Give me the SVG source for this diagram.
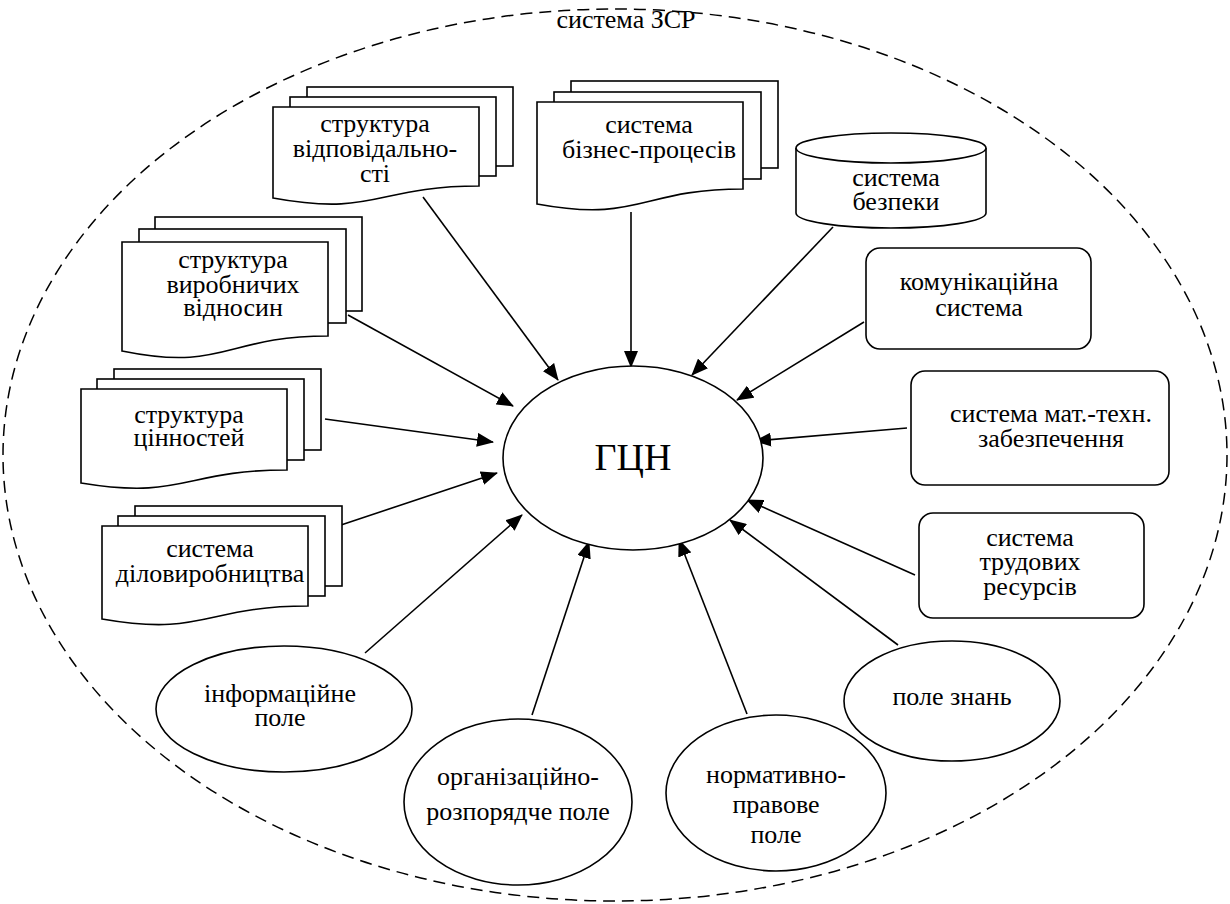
<svg xmlns="http://www.w3.org/2000/svg" width="1230" height="904" viewBox="0 0 1230 904" font-family="'Liberation Serif', 'Times New Roman', 'DejaVu Serif', serif">
<defs>
<marker id="arr" markerUnits="userSpaceOnUse" markerWidth="18" markerHeight="14" refX="16" refY="7" orient="auto">
<path d="M0,0 L17,7 L0,14 Z" fill="#000"/>
</marker>
<style>
text{font-family:'Liberation Serif','Times New Roman','DejaVu Serif',serif}
.t{font-size:26px;fill:#000;text-anchor:middle}
.s{fill:#fff;stroke:#000;stroke-width:1.6}
.c{stroke:#000;stroke-width:1.6;fill:none;marker-end:url(#arr)}
</style>
</defs>
<rect width="1230" height="904" fill="#fff"/>
<g id="boundary">
<ellipse cx="615" cy="455" rx="612" ry="446" fill="none" stroke="#000" stroke-width="1.5" stroke-dasharray="12,7"/>
<text class="t" x="626" y="28">система ЗСР</text>
</g>
<g id="connectors">
<line class="c" x1="423" y1="197" x2="558" y2="380"/>
<line class="c" x1="631" y1="212" x2="631" y2="367"/>
<line class="c" x1="833" y1="227" x2="692" y2="375"/>
<line class="c" x1="864" y1="322" x2="737" y2="400"/>
<line class="c" x1="907" y1="428" x2="755" y2="441"/>
<line class="c" x1="915" y1="575" x2="747" y2="500"/>
<line class="c" x1="898" y1="645" x2="730" y2="520"/>
<line class="c" x1="747" y1="714" x2="679" y2="540"/>
<line class="c" x1="532" y1="715" x2="589" y2="542"/>
<line class="c" x1="365" y1="653" x2="522" y2="515"/>
<line class="c" x1="341" y1="525" x2="497" y2="473"/>
<line class="c" x1="325" y1="419" x2="493" y2="442"/>
<line class="c" x1="348" y1="315" x2="513" y2="406"/>
</g>
<g id="gcn">
<ellipse class="s" cx="633" cy="458" rx="130" ry="92"/>
<text class="t" x="633" y="470" style="font-size:38px">ГЦН</text>
</g>
<g id="resp">
<rect class="s" x="307" y="87" width="206" height="79"/>
<rect class="s" x="290" y="97" width="206" height="79"/>
<path class="s" d="M273,107 H479 V186 C376,186 376,217 273,198 Z"/>
<text class="t" x="375" y="132">структура</text>
<text class="t" x="375" y="157">відповідально-</text>
<text class="t" x="375" y="182">сті</text>
</g>
<g id="bp">
<rect class="s" x="571" y="81" width="207" height="87"/>
<rect class="s" x="554" y="92" width="207" height="87"/>
<path class="s" d="M537,102 H743 V189 C640,189 640,223 537,204 Z"/>
<text class="t" x="649" y="133">система</text>
<text class="t" x="649" y="158">бізнес-процесів</text>
</g>
<g id="security">
<path class="s" d="M796,148 V213 A95,15 0 0 0 986,213 V148"/>
<ellipse class="s" cx="891" cy="148" rx="95" ry="15"/>
<text class="t" x="896" y="186">система</text>
<text class="t" x="896" y="210">безпеки</text>
</g>
<g id="prod">
<rect class="s" x="155" y="217" width="207" height="94"/>
<rect class="s" x="139" y="229" width="207" height="94"/>
<path class="s" d="M122,242 H328 V336 C225,336 225,372 122,351 Z"/>
<text class="t" x="233" y="268">структура</text>
<text class="t" x="233" y="293">виробничих</text>
<text class="t" x="233" y="316">відносин</text>
</g>
<g id="values">
<rect class="s" x="114" y="369" width="207" height="81"/>
<rect class="s" x="97" y="379" width="207" height="81"/>
<path class="s" d="M81,389 H287 V470 C184,470 184,500 81,483 Z"/>
<text class="t" x="189" y="423">структура</text>
<text class="t" x="189" y="446">цінностей</text>
</g>
<g id="records">
<rect class="s" x="135" y="506" width="207" height="80"/>
<rect class="s" x="118" y="516" width="207" height="80"/>
<path class="s" d="M102,526 H308 V606 C205,606 205,637 102,619 Z"/>
<text class="t" x="210" y="557">система</text>
<text class="t" x="210" y="582">діловиробництва</text>
</g>
<g id="comm">
<rect class="s" x="866" y="248" width="225" height="101" rx="14"/>
<text class="t" x="979" y="290">комунікаційна</text>
<text class="t" x="979" y="316">система</text>
</g>
<g id="mat">
<rect class="s" x="911" y="371" width="258" height="114" rx="14"/>
<text class="t" x="1051" y="422">система мат.-техн.</text>
<text class="t" x="1051" y="447">забезпечення</text>
</g>
<g id="labor">
<rect class="s" x="919" y="513" width="225" height="105" rx="14"/>
<text class="t" x="1030" y="546">система</text>
<text class="t" x="1030" y="570">трудових</text>
<text class="t" x="1030" y="595">ресурсів</text>
</g>
<g id="info">
<ellipse class="s" cx="284" cy="709" rx="128" ry="63"/>
<text class="t" x="280" y="702">інформаційне</text>
<text class="t" x="280" y="726">поле</text>
</g>
<g id="org">
<ellipse class="s" cx="518" cy="802" rx="114" ry="83"/>
<text class="t" x="518" y="785">організаційно-</text>
<text class="t" x="518" y="820">розпорядче поле</text>
</g>
<g id="norm">
<ellipse class="s" cx="776" cy="793" rx="110" ry="78"/>
<text class="t" x="776" y="783">нормативно-</text>
<text class="t" x="776" y="813">правове</text>
<text class="t" x="776" y="843">поле</text>
</g>
<g id="knowledge">
<ellipse class="s" cx="952" cy="701" rx="108" ry="60"/>
<text class="t" x="952" y="705">поле знань</text>
</g>
</svg>
